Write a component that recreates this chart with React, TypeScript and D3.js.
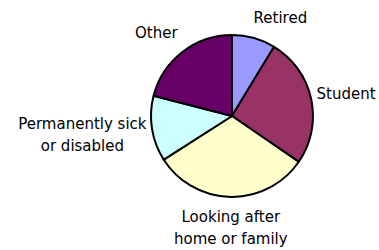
import React from 'react'
import * as d3 from 'd3'

const categories = ['Retired', 'Student', 'Looking after home or family', 'Permanently sick or disabled', 'Other']
const values = [8.7, 25.9, 31.4, 13.1, 21.0]
const labelLines = [['Retired'], ['Student'], ['Looking after', 'home or family'], ['Permanently sick', 'or disabled'], ['Other']]
const colors = ['#9999FF', '#993366', '#FFFFCC', '#CCFFFF', '#660066']

// label nudges relative to a point just outside the slice's mid-angle
const nudges: [number, number][] = [[19, 6.5], [7.5, 1], [0.5, 3], [-42, 1.5], [-9, 3]]

const W = 379
const H = 250
const cx = 232
const cy = 116
const r = 81
const fontSize = 15
const lineH = 22.5

export default function App() {
  const pie = d3.pie<number>().sort(null).value(d => d)
  const arcs = pie(values)
  const arc = d3.arc<d3.PieArcDatum<number>>().innerRadius(0).outerRadius(r)

  return (
    <svg width={W} height={H} style={{position: 'absolute', left: 0, top: 0}}
      fontFamily="DejaVu Sans" fontSize={fontSize}>
      <rect width={W} height={H} fill="#fff" />
      <g transform={`translate(${cx},${cy})`}>
        {arcs.map((a, i) => (
          <path key={categories[i]} d={arc(a) || ''} fill={colors[i]} stroke="#000" strokeWidth={2} strokeLinejoin="round" />
        ))}
        {arcs.map((a, i) => {
          const mid = (a.startAngle + a.endAngle) / 2
          const R = r + 28
          const x = Math.sin(mid) * R + nudges[i][0]
          const y = -Math.cos(mid) * R + nudges[i][1]
          const lines = labelLines[i]
          const y0 = y - ((lines.length - 1) * lineH) / 2
          return (
            <text key={'l' + i} textAnchor="middle" fill="#000">
              {lines.map((t, j) => (
                <tspan key={j} x={x} y={y0 + j * lineH} dy="0.35em">{t}</tspan>
              ))}
            </text>
          )
        })}
      </g>
    </svg>
  )
}
